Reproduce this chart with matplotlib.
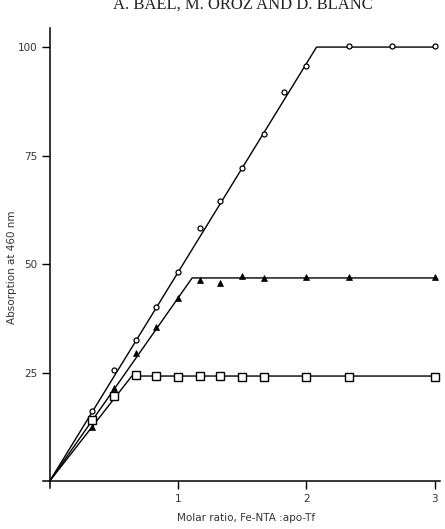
import numpy as np
import matplotlib.pyplot as plt

# molar ratio Fe-NTA : apo-Tf
ratio_circ = [0.33, 0.5, 0.67, 0.83, 1.0, 1.17, 1.33, 1.5, 1.67, 1.83, 2.0, 2.33, 2.67, 3.0]
abs_circ = [16.1, 25.7, 32.6, 40.1, 48.1, 58.4, 64.5, 72.1, 80.0, 89.6, 95.6, 100.2, 100.2, 100.2]

ratio_tri = [0.33, 0.5, 0.67, 0.83, 1.0, 1.17, 1.33, 1.5, 1.67, 2.0, 2.33, 3.0]
abs_tri = [12.4, 21.4, 29.6, 35.5, 42.1, 46.3, 45.7, 47.2, 46.9, 47.0, 47.0, 47.0]

ratio_sq = [0.33, 0.5, 0.67, 0.83, 1.0, 1.17, 1.33, 1.5, 1.67, 2.0, 2.33, 3.0]
abs_sq = [14.0, 19.6, 24.4, 24.2, 24.0, 24.2, 24.3, 24.0, 24.0, 24.0, 24.0, 24.0]

# fitted lines (break points)
fit_circ_x = [0, 2.08, 3.0]
fit_circ_y = [0, 100, 100]
fit_tri_x = [0, 1.11, 3.0]
fit_tri_y = [0, 46.8, 46.8]
fit_sq_x = [0, 0.64, 3.0]
fit_sq_y = [0, 24.2, 24.2]

fig = plt.figure(figsize=(4.45, 5.29), dpi=100)
ax = fig.add_axes([0.0973, 0.0775, 0.8908, 0.8696])

lw = 1.0
ax.plot(fit_circ_x, fit_circ_y, color='black', lw=lw, zorder=2)
ax.plot(fit_tri_x, fit_tri_y, color='black', lw=lw, zorder=2)
ax.plot(fit_sq_x, fit_sq_y, color='black', lw=lw, zorder=2)

ax.plot(ratio_circ, abs_circ, 'o', ms=3.6, mfc='white', mec='black', mew=0.9, zorder=3)
ax.plot(ratio_tri, abs_tri, '^', ms=4.8, mfc='black', mec='black', mew=0.5, zorder=3)
ax.plot(ratio_sq, abs_sq, 's', ms=5.5, mfc='white', mec='black', mew=1.0, zorder=3)

ax.set_xlim(-0.05, 3.04)
ax.set_ylim(-1.6, 104.4)
for s in ['top', 'right']:
    ax.spines[s].set_visible(False)
ax.spines['left'].set_position(('data', 0))
ax.spines['bottom'].set_position(('data', 0))
ax.spines['left'].set_linewidth(1.1)
ax.spines['bottom'].set_linewidth(1.1)

ax.set_xticks([1, 2, 3])
ax.set_yticks([25, 50, 75, 100])
ax.tick_params(direction='out', length=6, width=1.0, labelsize=7.5,
               labelcolor='#333333', pad=3)

fig.text(0.027, 0.495, 'Absorption at 460 nm', rotation=90, ha='center', va='center',
         fontsize=7.5, color='#333333')
fig.text(0.553, 0.021, 'Molar ratio, Fe-NTA :apo-Tf', ha='center', va='center',
         fontsize=7.5, color='#333333')

# running header, cut off at the top of the page as in the scan
fig.text(0.545, 1 - 8.5 / 529, 'A. BAEL, M. OROZ AND D. BLANC', ha='center', va='baseline',
         fontsize=12, family='Liberation Serif', color='#222222')

fig.savefig('out.png', dpi=100)
